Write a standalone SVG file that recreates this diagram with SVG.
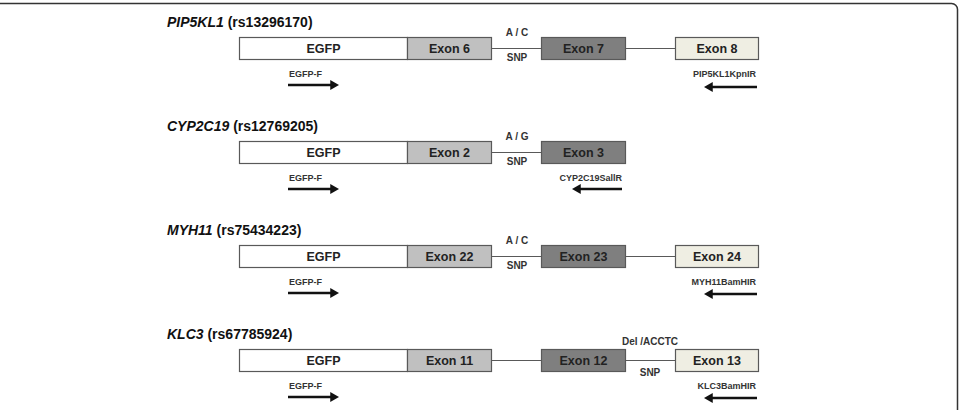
<svg xmlns="http://www.w3.org/2000/svg" width="959" height="410" viewBox="0 0 959 410">
<style>
.box{stroke:#595959;stroke-width:1.2}
.egfp{fill:#ffffff}
.lt{fill:#c0c0c0}
.dk{fill:#7f7f7f}
.cr{fill:#efeee3}
.intron{stroke:#595959;stroke-width:1.2;fill:none}
.lbl{font-family:"Liberation Sans",Arial,sans-serif;font-weight:bold;font-size:12.5px;fill:#222;text-anchor:middle}
.title{font-family:"Liberation Sans",Arial,sans-serif;font-weight:bold;font-size:14px;fill:#111}
.snp{font-family:"Liberation Sans",Arial,sans-serif;font-weight:bold;font-size:10px;fill:#333;text-anchor:middle}
.pr{font-family:"Liberation Sans",Arial,sans-serif;font-weight:bold;font-size:9px;fill:#333}
.arr{stroke:#111;stroke-width:2.5;fill:none}
</style>
<defs>
<marker id="ah" markerWidth="4" markerHeight="4" refX="1.5" refY="2" orient="auto" markerUnits="strokeWidth">
<path d="M0,0 L3.5,2 L0,4 Z" fill="#111"/>
</marker>
</defs>
<path d="M0,3.5 H951 A6,6 0 0 1 957.5,10 V410" fill="none" stroke="#333" stroke-width="1.5"/>

<!-- Row 1 -->
<g id="row1">
<text class="title" x="167" y="27"><tspan font-style="italic">PIP5KL1</tspan> (rs13296170)</text>
<g id="r1-egfp"><rect class="box egfp" x="239.5" y="37.5" width="168" height="22"/><text class="lbl" x="323.5" y="53">EGFP</text></g>
<g id="r1-exon6"><rect class="box lt" x="407.5" y="37.5" width="84" height="22"/><text class="lbl" x="449.5" y="53">Exon 6</text></g>
<g id="r1-exon7"><rect class="box dk" x="541.5" y="37.5" width="84" height="22"/><text class="lbl" x="583.5" y="53">Exon 7</text></g>
<g id="r1-exon8"><rect class="box cr" x="675.5" y="37.5" width="83" height="22"/><text class="lbl" x="717" y="53">Exon 8</text></g>
<text class="snp" x="517" y="36">A / C</text>
<text class="snp" x="517" y="61">SNP</text>
<text class="pr" x="289" y="76.5">EGFP-F</text>
<text class="pr" x="756" y="76.5" text-anchor="end">PIP5KL1KpnIR</text>
</g>

<!-- Row 2 -->
<g id="row2">
<text class="title" x="167" y="131"><tspan font-style="italic">CYP2C19</tspan> (rs12769205)</text>
<g id="r2-egfp"><rect class="box egfp" x="239.5" y="141.5" width="168" height="22"/><text class="lbl" x="323.5" y="157">EGFP</text></g>
<g id="r2-exon2"><rect class="box lt" x="407.5" y="141.5" width="84" height="22"/><text class="lbl" x="449.5" y="157">Exon 2</text></g>
<g id="r2-exon3"><rect class="box dk" x="541.5" y="141.5" width="84" height="22"/><text class="lbl" x="583.5" y="157">Exon 3</text></g>
<text class="snp" x="517" y="140">A / G</text>
<text class="snp" x="517" y="165">SNP</text>
<text class="pr" x="289" y="180.5">EGFP-F</text>
<text class="pr" x="622" y="180.5" text-anchor="end">CYP2C19SallR</text>
</g>

<!-- Row 3 -->
<g id="row3">
<text class="title" x="167" y="235"><tspan font-style="italic">MYH11</tspan> (rs75434223)</text>
<g id="r3-egfp"><rect class="box egfp" x="239.5" y="245.5" width="168" height="22"/><text class="lbl" x="323.5" y="261">EGFP</text></g>
<g id="r3-exon22"><rect class="box lt" x="407.5" y="245.5" width="84" height="22"/><text class="lbl" x="449.5" y="261">Exon 22</text></g>
<g id="r3-exon23"><rect class="box dk" x="541.5" y="245.5" width="84" height="22"/><text class="lbl" x="583.5" y="261">Exon 23</text></g>
<g id="r3-exon24"><rect class="box cr" x="675.5" y="245.5" width="83" height="22"/><text class="lbl" x="717" y="261">Exon 24</text></g>
<text class="snp" x="517" y="244">A / C</text>
<text class="snp" x="517" y="269">SNP</text>
<text class="pr" x="289" y="284.5">EGFP-F</text>
<text class="pr" x="756" y="284.5" text-anchor="end">MYH11BamHIR</text>
</g>

<!-- Row 4 -->
<g id="row4">
<text class="title" x="167" y="339"><tspan font-style="italic">KLC3</tspan> (rs67785924)</text>
<g id="r4-egfp"><rect class="box egfp" x="239.5" y="349.5" width="168" height="22"/><text class="lbl" x="323.5" y="365">EGFP</text></g>
<g id="r4-exon11"><rect class="box lt" x="407.5" y="349.5" width="84" height="22"/><text class="lbl" x="449.5" y="365">Exon 11</text></g>
<g id="r4-exon12"><rect class="box dk" x="541.5" y="349.5" width="84" height="22"/><text class="lbl" x="583.5" y="365">Exon 12</text></g>
<g id="r4-exon13"><rect class="box cr" x="675.5" y="349.5" width="83" height="22"/><text class="lbl" x="717" y="365">Exon 13</text></g>
<text class="snp" x="650" y="345">Del /ACCTC</text>
<text class="snp" x="650" y="376">SNP</text>
<text class="pr" x="289" y="388.5">EGFP-F</text>
<text class="pr" x="756" y="388.5" text-anchor="end">KLC3BamHIR</text>
</g>

<g id="connectors">
<line class="intron" x1="491.5" y1="48.5" x2="541.5" y2="48.5"/>
<line class="intron" x1="625.5" y1="48.5" x2="675.5" y2="48.5"/>
<line class="intron" x1="491.5" y1="152.5" x2="541.5" y2="152.5"/>
<line class="intron" x1="491.5" y1="256.5" x2="541.5" y2="256.5"/>
<line class="intron" x1="625.5" y1="256.5" x2="675.5" y2="256.5"/>
<line class="intron" x1="491.5" y1="360.5" x2="541.5" y2="360.5"/>
<line class="intron" x1="625.5" y1="360.5" x2="675.5" y2="360.5"/>
<line class="arr" x1="288" y1="85" x2="334" y2="85" marker-end="url(#ah)"/>
<line class="arr" x1="757" y1="87" x2="709" y2="87" marker-end="url(#ah)"/>
<line class="arr" x1="288" y1="189" x2="334" y2="189" marker-end="url(#ah)"/>
<line class="arr" x1="622" y1="189" x2="577" y2="189" marker-end="url(#ah)"/>
<line class="arr" x1="288" y1="293" x2="334" y2="293" marker-end="url(#ah)"/>
<line class="arr" x1="757" y1="294" x2="709" y2="294" marker-end="url(#ah)"/>
<line class="arr" x1="288" y1="397" x2="334" y2="397" marker-end="url(#ah)"/>
<line class="arr" x1="757" y1="398" x2="709" y2="398" marker-end="url(#ah)"/>
</g>
</svg>
